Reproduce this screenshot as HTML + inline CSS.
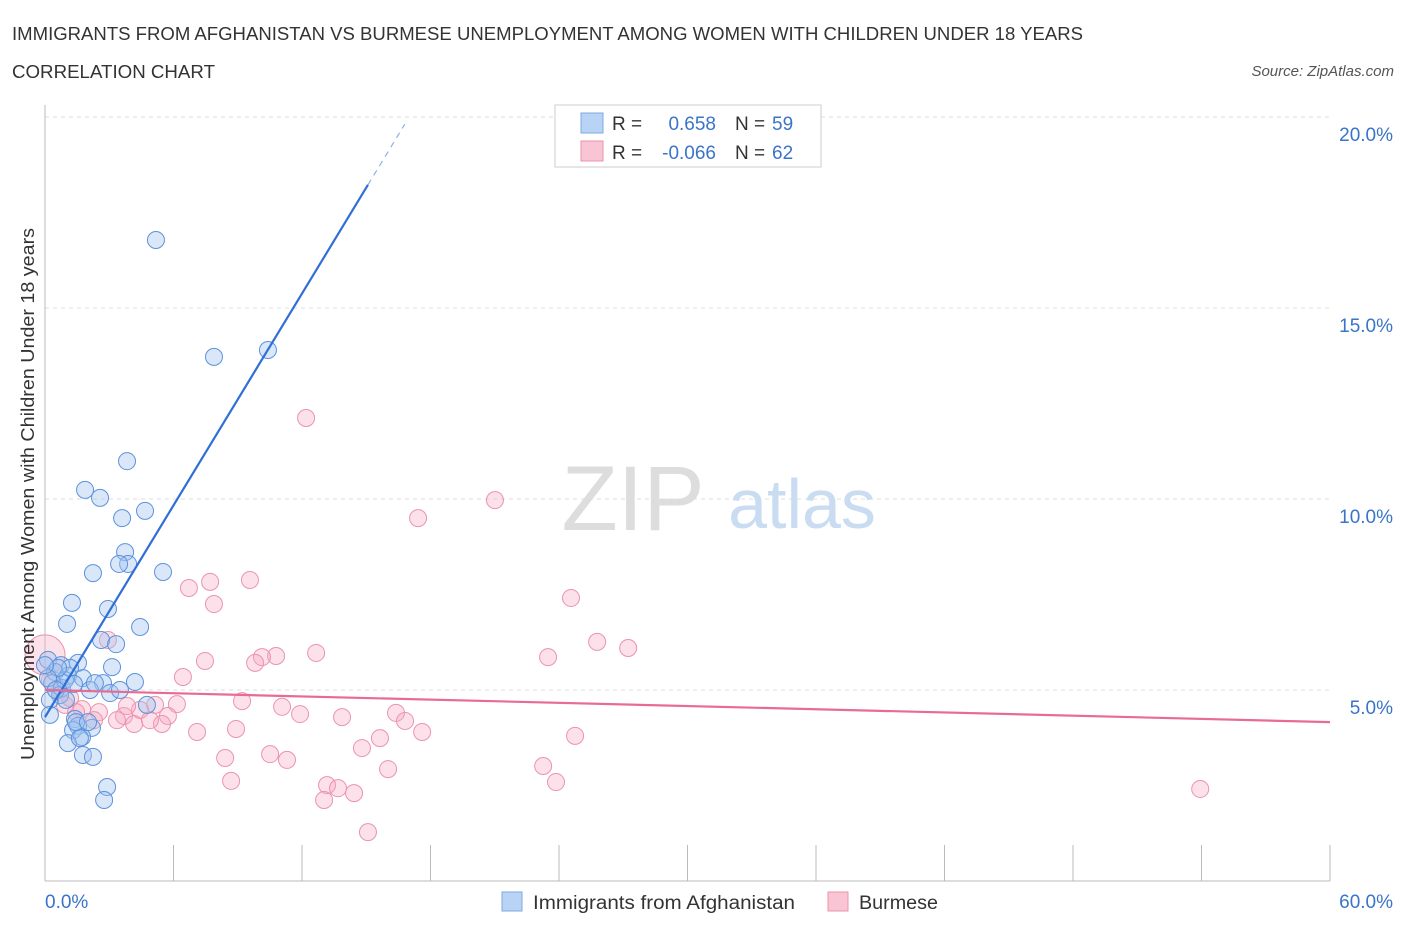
<!DOCTYPE html>
<html><head><meta charset="utf-8"><style>
body{margin:0;background:#fff;font-family:"Liberation Sans",sans-serif;}
svg text{font-family:"Liberation Sans",sans-serif;}
</style></head><body>
<svg width="1406" height="930" viewBox="0 0 1406 930">
<text x="12" y="40" font-size="18" fill="#333" textLength="1071" lengthAdjust="spacingAndGlyphs">IMMIGRANTS FROM AFGHANISTAN VS BURMESE UNEMPLOYMENT AMONG WOMEN WITH CHILDREN UNDER 18 YEARS</text>
<text x="12" y="78" font-size="18" fill="#333" textLength="203" lengthAdjust="spacingAndGlyphs">CORRELATION CHART</text>
<text x="1394" y="76" font-size="15" fill="#555" text-anchor="end" font-style="italic">Source: ZipAtlas.com</text>
<g id="grid"></g>
<text x="633" y="530" font-size="92" fill="#ddd" font-family="Liberation Serif" text-anchor="middle">ZIP</text>
<text x="802" y="528" font-size="70" fill="#c9dcf2" text-anchor="middle">atlas</text>
<g id="pts"></g>
<g id="lines"></g>
<text transform="translate(34,494) rotate(-90)" font-size="18" fill="#333" text-anchor="middle" textLength="532" lengthAdjust="spacingAndGlyphs">Unemployment Among Women with Children Under 18 years</text>
<text x="45" y="908" font-size="19" fill="#3a74c9">0.0%</text>
<text x="1393" y="908" font-size="19" fill="#3a74c9" text-anchor="end">60.0%</text>
<g>
<rect x="555" y="105" width="266" height="62" fill="#fff" stroke="#ccc"/>
<rect x="581" y="113" width="22" height="20" fill="#b9d3f5" stroke="#7ea8e4"/>
<rect x="581" y="141" width="22" height="20" fill="#f9c5d4" stroke="#ec93ad"/>
<text x="612" y="130" font-size="19" fill="#333">R =</text><text x="716" y="130" font-size="19" fill="#3a74c9" text-anchor="end">0.658</text>
<text x="735" y="130" font-size="19" fill="#333">N =</text><text x="772" y="130" font-size="19" fill="#3a74c9">59</text>
<text x="612" y="159" font-size="19" fill="#333">R =</text><text x="716" y="159" font-size="19" fill="#3a74c9" text-anchor="end">-0.066</text>
<text x="735" y="159" font-size="19" fill="#333">N =</text><text x="772" y="159" font-size="19" fill="#3a74c9">62</text>
</g>
<g>
<rect x="502" y="892" width="20" height="19" fill="#b9d3f5" stroke="#7ea8e4"/>
<text x="533" y="909" font-size="19" fill="#333" textLength="262" lengthAdjust="spacingAndGlyphs">Immigrants from Afghanistan</text>
<rect x="828" y="892" width="20" height="19" fill="#f9c5d4" stroke="#ec93ad"/>
<text x="859" y="909" font-size="19" fill="#333" textLength="79" lengthAdjust="spacingAndGlyphs">Burmese</text>
</g>
</svg>
<script>
const yTicks=[5,10,15,20];
const yTickLabels=["5.0%","10.0%","15.0%","20.0%"];
const xTicks=[0,6,12,18,24,30,36,42,48,54,60];
const blueX=[5.18,7.89,10.41,3.83,1.87,2.57,4.67,3.60,3.74,3.88,3.46,5.51,2.24,1.26,2.94,1.03,4.44,2.62,3.32,0.14,0.75,1.54,3.13,0.47,1.07,1.77,2.71,4.20,0.33,2.10,3.04,0.79,0.70,0.23,4.76,0.23,1.40,2.19,1.54,1.31,1.73,1.07,1.77,2.24,2.90,2.76,0.93,1.17,0.61,0.14,1.63,1.45,2.01,0.51,0.98,1.35,2.33,0.0,3.50];
const blueY=[16.78,13.72,13.90,10.99,10.24,10.03,9.69,9.50,8.61,8.30,8.30,8.09,8.06,7.28,7.12,6.73,6.65,6.31,6.20,5.79,5.65,5.71,5.60,5.47,5.37,5.31,5.18,5.21,5.18,5.00,4.92,5.05,4.87,4.74,4.61,4.35,4.24,4.01,4.06,3.95,3.77,3.61,3.30,3.25,2.46,2.12,5.26,5.58,5.58,5.31,3.74,4.16,4.16,5.00,4.74,5.16,5.18,5.65,5.00];
const pinkX=[0,12.19,21.01,17.42,24.56,9.57,7.71,6.72,7.89,25.78,27.23,23.49,12.66,7.47,10.79,10.13,9.81,6.44,9.20,6.16,11.07,11.91,13.87,16.39,16.81,15.64,14.80,17.61,24.75,8.92,7.10,5.74,5.46,3.69,4.16,3.36,2.52,1.73,1.45,2.29,10.51,11.30,8.41,8.69,16.02,13.17,13.68,14.43,13.03,23.26,23.86,15.08,53.94,0.70,0.23,0.93,2.94,4.44,5.14,4.90,3.83,1.17];
const pinkY=[5.92,12.12,9.97,9.50,7.41,7.88,7.83,7.67,7.25,6.26,6.10,5.86,5.97,5.76,5.89,5.86,5.71,5.34,4.71,4.63,4.56,4.37,4.29,4.40,4.19,3.74,3.48,3.90,3.80,3.98,3.90,4.32,4.11,4.32,4.11,4.21,4.42,4.50,4.42,4.21,3.32,3.17,3.22,2.62,2.93,2.51,2.43,2.30,2.12,3.01,2.59,1.28,2.41,5.00,5.26,4.61,6.31,4.48,4.61,4.21,4.58,4.79];
const blueTrend=[4.29,0.924];
const pinkTrend=[5.00,-0.014];
const NS="http://www.w3.org/2000/svg";
const X=v=>45+v/60*1285, Y=v=>881-v*38.2;
function mk(t,a,p){const e=document.createElementNS(NS,t);for(const k in a)e.setAttribute(k,a[k]);p.appendChild(e);return e;}
const grid=document.getElementById('grid');
yTicks.forEach((t,i)=>{
 const l=mk('line',{x1:45,x2:1330,y1:Y(t),y2:Y(t),stroke:'#ddd','stroke-dasharray':'4,4'},grid);
 
 
 const tx=mk('text',{x:1393,y:Y(t)+24,'font-size':19,fill:'#3a74c9','text-anchor':'end'},grid);
 tx.textContent=yTickLabels[i];
 
 
});
const ga=mk('line',{x1:45,x2:45,y1:105,y2:881,stroke:'#bbb'},grid);


const gx=mk('line',{x1:45,x2:1330,y1:881,y2:881,stroke:'#bbb'},grid);


xTicks.forEach(t=>{
 const l=mk('line',{x1:X(t),x2:X(t),y1:845,y2:881,stroke:'#bbb'},grid);
 
 
});
const pts=document.getElementById('pts');
pinkX.forEach((x,i)=>{
 const c=mk('circle',{cx:X(x),cy:Y(pinkY[i]),r:i===0?20:8.5,fill:'rgba(246,170,196,0.35)',stroke:'#ec93ad','stroke-width':1},pts);
 
 
});
blueX.forEach((x,i)=>{
 const c=mk('circle',{cx:X(x),cy:Y(blueY[i]),r:8.5,fill:'rgba(160,196,240,0.4)',stroke:'#5d92dc','stroke-width':1},pts);
 
 
});
const lines=document.getElementById('lines');
const bl=mk('line',{x1:X(0),y1:Y(blueTrend[0]),x2:X(15.08),y2:Y(blueTrend[0]+blueTrend[1]*15.08),stroke:'#2f6fd6','stroke-width':2.2},lines);


const bd=mk('line',{x1:X(15.08),y1:Y(blueTrend[0]+blueTrend[1]*15.08),x2:X(16.8),y2:Y(blueTrend[0]+blueTrend[1]*16.8),stroke:'#8fb2e6','stroke-width':1.2,'stroke-dasharray':'6,5'},lines);


const pl=mk('line',{x1:X(0),y1:Y(pinkTrend[0]),x2:X(60),y2:Y(pinkTrend[0]+pinkTrend[1]*60),stroke:'#e86b93','stroke-width':2.2},lines);


</script>
</body></html>
